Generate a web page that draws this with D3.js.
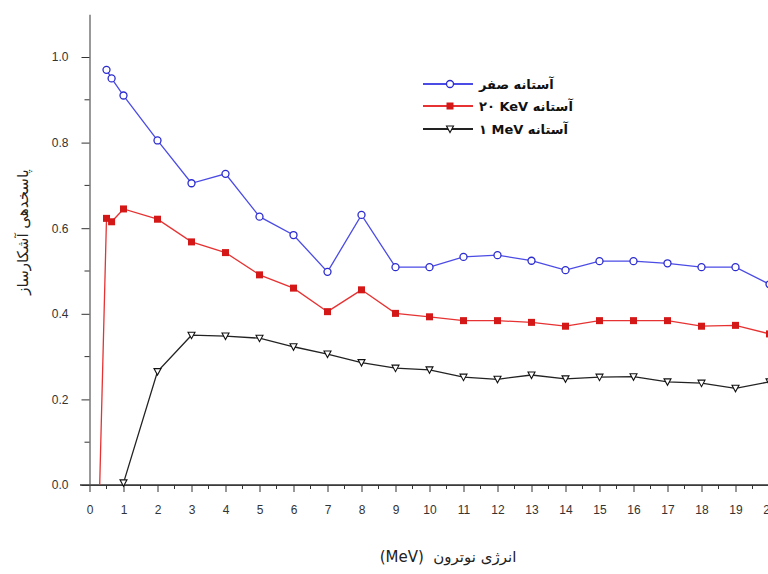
<!DOCTYPE html>
<html>
<head>
<meta charset="utf-8">
<script src="https://d3js.org/d3.v7.min.js"></script>
<style>
  body { margin: 0; background: #fff; }
  svg { display: block; }
</style>
</head>
<body>
<svg id="chart" width="768" height="574"></svg>
<script>
// series
const zeroX = [0.5, 0.65, 1, 2, 3, 4, 5, 6, 7, 8, 9, 10, 11, 12, 13, 14, 15, 16, 17, 18, 19, 20];
const zeroY = [0.97, 0.95, 0.91, 0.805, 0.705, 0.727, 0.627, 0.584, 0.498, 0.631, 0.509, 0.509, 0.533, 0.537, 0.524, 0.502, 0.523, 0.523, 0.518, 0.509, 0.509, 0.469];

const kevX = [0.3, 0.5, 0.65, 1, 2, 3, 4, 5, 6, 7, 8, 9, 10, 11, 12, 13, 14, 15, 16, 17, 18, 19, 20];
const kevY = [0.0, 0.623, 0.615, 0.645, 0.621, 0.568, 0.543, 0.491, 0.46, 0.405, 0.456, 0.401, 0.393, 0.384, 0.384, 0.38, 0.371, 0.384, 0.384, 0.384, 0.371, 0.373, 0.353];

const mevX = [1, 2, 3, 4, 5, 6, 7, 8, 9, 10, 11, 12, 13, 14, 15, 16, 17, 18, 19, 20];
const mevY = [0.005, 0.265, 0.35, 0.348, 0.343, 0.323, 0.306, 0.286, 0.273, 0.269, 0.252, 0.247, 0.257, 0.248, 0.252, 0.253, 0.241, 0.238, 0.226, 0.241];

const yTicks = [0, 0.2, 0.4, 0.6, 0.8, 1.0];
const yMinor = [0.1, 0.3, 0.5, 0.7, 0.9];
const xTicks = d3.range(0, 21);
const xMinor = d3.range(0.5, 20, 1);

const legendLabels = ["آستانه صفر", "آستانه \u200E۲۰ KeV", "آستانه \u200E۱ MeV"];
const xTitle = "انرژی نوترون  (MeV)";
const yTitle = "پاسخدهی آشکارساز";

const svg = d3.select("#chart");
const x = d3.scaleLinear().domain([0, 20]).range([89.5, 769.5]);
const y = d3.scaleLinear().domain([0, 1.1]).range([485, 14.2]);

const tickFont = "'Liberation Sans', Arial, sans-serif";
const faFont = "'DejaVu Sans', sans-serif";

// axes
const gx = svg.append("g").attr("transform", "translate(0,485)")
    .call(d3.axisBottom(x).tickValues(xTicks).tickFormat(d3.format("d"))
        .tickSize(7).tickSizeOuter(0).tickPadding(13));
gx.append("g").selectAll("line").data(xMinor).join("line")
    .attr("x1", d => x(d)).attr("x2", d => x(d))
    .attr("y1", 0).attr("y2", 4).attr("stroke", "#333");
gx.append("line").attr("x1", 80).attr("x2", 768).attr("stroke", "#333").attr("stroke-width", 1.3);

const gy = svg.append("g").attr("transform", "translate(89.5,0)")
    .call(d3.axisLeft(y).tickValues(yTicks).tickFormat(d3.format(".1f"))
        .tickSize(8).tickSizeOuter(0).tickPadding(13));
gy.append("g").selectAll("line").data(yMinor).join("line")
    .attr("y1", d => y(d)).attr("y2", d => y(d))
    .attr("x1", 0).attr("x2", -5).attr("stroke", "#333");

svg.selectAll(".domain").attr("stroke", "#555").attr("stroke-width", 1.2);
svg.selectAll(".tick line").attr("stroke", "#333");
svg.selectAll(".tick text").attr("font-family", tickFont).attr("font-size", 12).attr("fill", "#333");

// series
const line = d3.line().x(d => x(d[0])).y(d => y(d[1]));
const zip = (a, b) => a.map((v, i) => [v, b[i]]);

const series = [
  { pts: zip(zeroX, zeroY), color: "#4b4be6", mark: "circle" },
  { pts: zip(kevX, kevY), color: "#e63232", mark: "square" },
  { pts: zip(mevX, mevY), color: "#222", mark: "triangle" }
];

function drawMark(g, s, px, py) {
  if (s.mark === "circle") {
    g.append("circle").attr("cx", px).attr("cy", py).attr("r", 3.5)
      .attr("fill", "#fff").attr("stroke", "#2b2bd0").attr("stroke-width", 1.3);
  } else if (s.mark === "square") {
    g.append("rect").attr("x", px - 3.5).attr("y", py - 3.5).attr("width", 7).attr("height", 7)
      .attr("fill", "#d41818");
  } else {
    g.append("path").attr("d", `M${px - 3.5},${py - 3}L${px + 3.5},${py - 3}L${px},${py + 3.5}Z`)
      .attr("fill", "#fff").attr("stroke", "#111").attr("stroke-width", 1.1);
  }
}

series.forEach(s => {
  const g = svg.append("g");
  g.append("path").datum(s.pts).attr("d", line)
    .attr("fill", "none").attr("stroke", s.color).attr("stroke-width", 1.3);
  s.pts.filter(d => !(s.mark === "square" && d[1] === 0))
    .forEach(d => drawMark(g, s, x(d[0]), y(d[1])));
});

// legend
const legendY = [84, 106, 129];
series.forEach((s, i) => {
  const g = svg.append("g");
  g.append("line").attr("x1", 423).attr("x2", 473)
    .attr("y1", legendY[i]).attr("y2", legendY[i])
    .attr("stroke", s.color).attr("stroke-width", 1.8);
  drawMark(g, s, 450, legendY[i]);
  const t = g.append("text").attr("direction", "rtl").attr("text-anchor", "middle")
    .attr("font-family", faFont).attr("font-size", 13).attr("font-weight", "bold").attr("fill", "#111")
    .attr("y", legendY[i] + 5).text(legendLabels[i]);
  const w = t.node().getComputedTextLength();
  t.attr("x", 479 + w / 2);
});

// titles
svg.append("text").attr("direction", "rtl").attr("text-anchor", "middle")
  .attr("x", 448).attr("y", 562).style("white-space", "pre")
  .attr("font-family", faFont).attr("font-size", 15).attr("fill", "#222")
  .text(xTitle);

svg.append("text").attr("direction", "rtl").attr("text-anchor", "middle")
  .attr("transform", "translate(28,232) rotate(-90)")
  .attr("font-family", faFont).attr("font-size", 15).attr("fill", "#222")
  .text(yTitle);
</script>
</body>
</html>
